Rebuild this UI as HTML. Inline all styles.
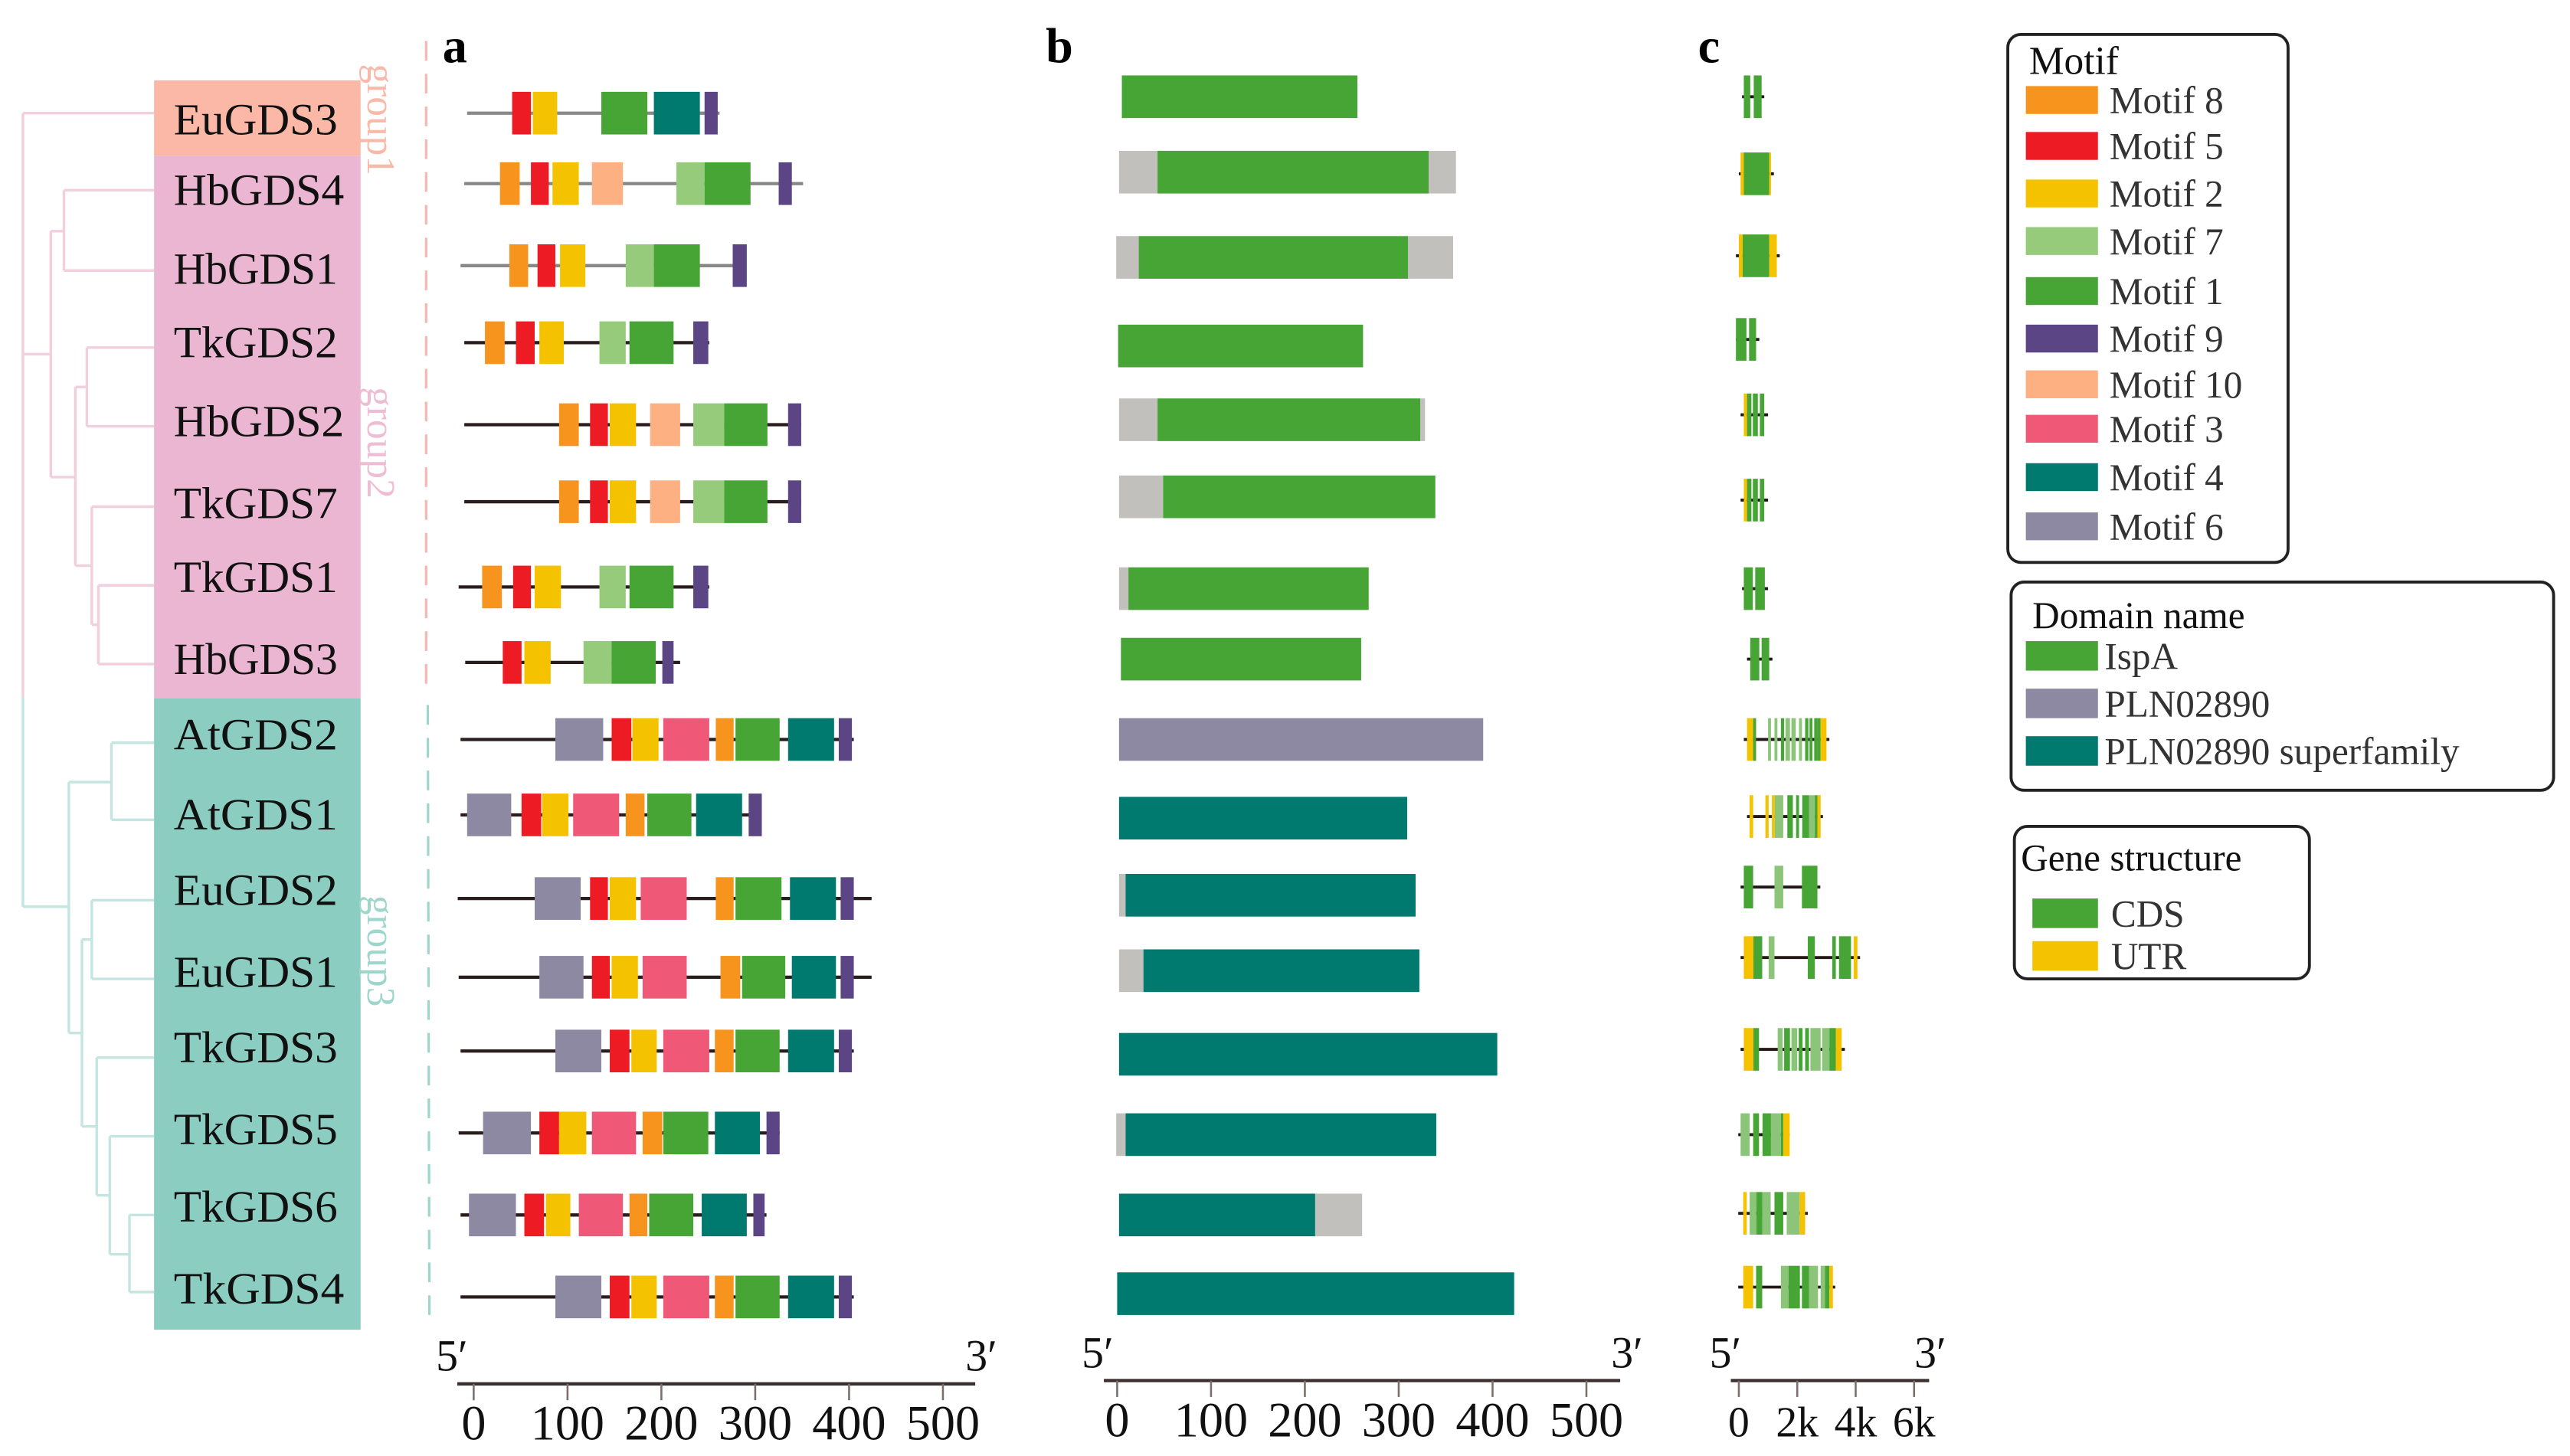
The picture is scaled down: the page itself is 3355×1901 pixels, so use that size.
<!DOCTYPE html>
<html><head><meta charset="utf-8"><style>
html,body{margin:0;padding:0;background:#fff;}
svg{display:block;}
text{font-family:"Liberation Serif",serif;}
</style></head><body>
<svg id="fig" xmlns="http://www.w3.org/2000/svg" width="3355" height="1901" viewBox="0 0 1568 888" preserveAspectRatio="none">
<rect x="0" y="0" width="1568" height="888" fill="#fff"/>
<g id="tree"></g>
<g id="labels"></g>
<g id="pa"></g>
<g id="pb"></g>
<g id="pc"></g>
<g id="legend"></g>
</svg>
<script>
const genes = ["EuGDS3","HbGDS4","HbGDS1","TkGDS2","HbGDS2","TkGDS7","TkGDS1","HbGDS3","AtGDS2","AtGDS1","EuGDS2","EuGDS1","TkGDS3","TkGDS5","TkGDS6","TkGDS4"];
const groupOf = [1,2,2,2,2,2,2,2,3,3,3,3,3,3,3,3];
const labelY = [72,115,163,208,256,306,351,401,447,496,542,592,638,688,735,785];
const rowA = [69,112,162,209,259,306,358,404,451,497,548,596,641,691,741,791];
const rowB = [59,105,157,211,256,303,359,402,451,499,546,592,643,692,741,789];
const rowC = [59,106,156,207,253,305,359,402,451,498,541,584,640,692,740,785];
const axisTicksAA = [0,100,200,300,400,500];
const axisTicksKb = [0,2,4,6];
const axisTickKbLabels = ["0","2k","4k","6k"];
// panel a: protein line extent (aa) and motifs [motifId,start,end]
const protLine = [[-7,262],[-10,351],[-14,290],[-10,251],[-10,349],[-10,349],[-16,251],[-9,220],[-14,405],[-14,307],[-17,424],[-16,424],[-14,405],[-16,326],[-14,312],[-14,405]];
const motifs = [
 [[5,41,61],[2,63,89],[1,136,185],[4,192,241],[9,246,260]],
 [[8,28,49],[5,61,80],[2,84,112],[10,126,159],[7,216,246],[1,246,295],[9,325,339]],
 [[8,38,58],[5,68,87],[2,92,119],[7,162,192],[1,192,241],[9,276,291]],
 [[8,12,33],[5,45,65],[2,70,96],[7,134,162],[1,166,213],[9,234,250]],
 [[8,91,112],[5,124,143],[2,145,173],[10,188,220],[7,234,267],[1,267,313],[9,335,349]],
 [[8,91,112],[5,124,143],[2,145,173],[10,188,220],[7,234,267],[1,267,313],[9,335,349]],
 [[8,9,30],[5,42,61],[2,65,93],[7,134,162],[1,166,213],[9,234,250]],
 [[5,31,51],[2,54,82],[7,117,147],[1,147,194],[9,201,213]],
 [[6,87,138],[5,147,168],[2,169,197],[3,202,251],[8,258,277],[1,279,326],[4,335,384],[9,389,403]],
 [[6,-7,40],[5,51,72],[2,73,101],[3,106,155],[8,162,182],[1,185,232],[4,237,286],[9,293,307]],
 [[6,65,114],[5,124,143],[2,145,173],[3,178,227],[8,258,277],[1,279,328],[4,337,386],[9,391,405]],
 [[6,70,117],[5,126,145],[2,147,175],[3,180,227],[8,263,284],[1,286,332],[4,339,386],[9,391,405]],
 [[6,87,136],[5,145,166],[2,168,195],[3,202,251],[8,257,277],[1,279,326],[4,335,384],[9,389,403]],
 [[6,10,61],[5,70,91],[2,91,120],[3,126,173],[8,180,201],[1,202,250],[4,257,305],[9,312,326]],
 [[6,-5,45],[5,54,75],[2,77,103],[3,112,159],[8,166,185],[1,187,234],[4,243,291],[9,298,310]],
 [[6,87,136],[5,145,166],[2,168,195],[3,202,251],[8,257,277],[1,279,326],[4,335,384],[9,389,403]]
];
// panel b domains [type,start,end]  type: I=IspA, P=PLN02890, S=superfamily, G=grey
const domains = [
 [["I",5,256]],
 [["G",2,43],["I",43,332],["G",332,361]],
 [["G",-1,23],["I",23,310],["G",310,358]],
 [["I",1,262]],
 [["G",2,43],["I",43,323],["G",323,328]],
 [["G",2,49],["I",49,339]],
 [["G",2,12],["I",12,268]],
 [["I",4,260]],
 [["P",2,390]],
 [["S",2,309]],
 [["G",2,9],["S",9,318]],
 [["G",2,28],["S",28,322]],
 [["S",2,405]],
 [["G",-1,9],["S",9,340]],
 [["S",2,211],["G",211,261]],
 [["S",0,423]]
];
// panel c gene structure in kb
const geneLine = [[0.11,0.87],[0,1.2],[-0.1,1.4],[-0.1,0.7],[0.06,1.0],[0.06,1.0],[0.11,1.0],[0.28,1.15],[0.17,3.1],[0.28,2.88],[0.06,2.79],[0.06,4.15],[0.06,3.63],[-0.02,1.74],[-0.02,2.36],[-0.02,3.3]];
const exons = [
 [["C",0.17,0.39],["C",0.51,0.78]],
 [["U",0.06,0.17],["C",0.17,1.04],["U",1.04,1.1]],
 [["U",0,0.13],["C",0.13,1.04],["U",1.04,1.3]],
 [["C",-0.1,0.26],["C",0.35,0.59]],
 [["U",0.17,0.28],["C",0.28,0.43],["C",0.48,0.65],["C",0.72,0.87]],
 [["U",0.17,0.28],["C",0.28,0.43],["C",0.48,0.65],["C",0.72,0.87]],
 [["C",0.17,0.48],["C",0.56,0.89]],
 [["C",0.39,0.7],["C",0.78,1.04]],
 [["U",0.28,0.49],["C",0.49,0.59],["L",1.0,1.1],["L",1.22,1.32],["C",1.44,1.55],["L",1.6,1.75],["L",1.8,1.95],["L",2.06,2.16],["C",2.27,2.38],["C",2.42,2.52],["C",2.58,2.7],["C",2.7,2.8],["U",2.8,3.0]],
 [["U",0.37,0.49],["U",0.91,1.02],["U",1.13,1.23],["L",1.23,1.52],["C",1.66,1.85],["C",1.96,2.06],["C",2.17,2.4],["L",2.4,2.6],["C",2.6,2.69],["U",2.69,2.8]],
 [["C",0.17,0.49],["L",1.22,1.52],["C",2.16,2.69]],
 [["U",0.17,0.5],["C",0.5,0.8],["L",1.02,1.22],["C",2.36,2.6],["C",3.2,3.32],["C",3.43,3.84],["U",3.93,4.06]],
 [["U",0.17,0.5],["C",0.5,0.69],["L",1.33,1.5],["C",1.55,1.75],["L",1.8,2.0],["C",2.05,2.18],["C",2.27,2.4],["L",2.45,2.8],["L",2.85,3.1],["C",3.1,3.32],["U",3.32,3.52]],
 [["L",0.06,0.37],["C",0.49,0.69],["C",0.81,1.1],["L",1.1,1.44],["C",1.44,1.52],["U",1.52,1.74]],
 [["U",0.15,0.27],["L",0.37,0.6],["C",0.6,0.8],["L",0.8,1.09],["C",1.22,1.52],["L",1.64,2.08],["U",2.08,2.27]],
 [["U",0.15,0.49],["C",0.59,0.8],["L",1.44,1.7],["C",1.7,2.09],["C",2.16,2.4],["L",2.4,2.71],["L",2.8,2.95],["C",2.95,3.1],["U",3.1,3.22]]
];
const motifColor = {8:"#f7941d",5:"#ed1c24",2:"#f5c200",7:"#97cb7c",1:"#46a535",9:"#5c4585",10:"#fdb081",3:"#ef5877",4:"#007a6e",6:"#8e89a3"};
const motifLegend = [8,5,2,7,1,9,10,3,4,6];
const domainColor = {I:"#46a535",P:"#8e89a3",S:"#007a6e",G:"#c1c0bd"};
const exonColor = {C:"#46a535",L:"#8cc57a",U:"#f5c200"};

const NS="http://www.w3.org/2000/svg";
function mk(parent,tag,attrs,txt){const e=document.createElementNS(NS,tag);for(const k in attrs)e.setAttribute(k,attrs[k]);if(txt!==undefined)e.textContent=txt;parent.appendChild(e);return e;}
const xA = v => 289 + v*0.5726;
const xB = v => 681.6 + v*0.5726;
const xC = kb => 1060.9 + kb*17.82;
const H = 26;

// tree
const tree=document.getElementById('tree');
const pinkT="#f2cfdd", tealT="#c5e6e0";
const segs=[
 [14,69,14,425,pinkT],[14,425,14,553,tealT],[14,69,94,69,pinkT],[14,216,31,216,pinkT],
 [31,141,31,291,pinkT],[31,141,39,141,pinkT],[39,116,39,165,pinkT],[39,116,94,116,pinkT],[39,165,94,165,pinkT],
 [31,291,46,291,pinkT],[46,236,46,345,pinkT],[46,236,53,236,pinkT],[53,212,53,260,pinkT],[53,212,94,212,pinkT],[53,260,94,260,pinkT],
 [46,345,56,345,pinkT],[56,309,56,381,pinkT],[56,309,94,309,pinkT],[56,381,60,381,pinkT],[60,357,60,405,pinkT],[60,357,94,357,pinkT],[60,405,94,405,pinkT],
 [14,553,42,553,tealT],[42,477,42,630,tealT],[42,477,68,477,tealT],[68,453,68,500,tealT],[68,453,94,453,tealT],[68,500,94,500,tealT],
 [42,630,50,630,tealT],[50,573,50,687,tealT],[50,573,56,573,tealT],[56,549,56,597,tealT],[56,549,94,549,tealT],[56,597,94,597,tealT],
 [50,687,59,687,tealT],[59,645,59,729,tealT],[59,645,94,645,tealT],[59,729,67,729,tealT],[67,693,67,765,tealT],[67,693,94,693,tealT],
 [67,765,79,765,tealT],[79,741,79,788,tealT],[79,741,94,741,tealT],[79,788,94,788,tealT]
];
segs.forEach(s=>{const l=mk(tree,'line',{x1:s[0],y1:s[1],x2:s[2],y2:s[3],stroke:s[4],'stroke-width':1.6});

});

// label boxes
const lab=document.getElementById('labels');
let r;
r=mk(lab,'rect',{x:94,y:49,width:126,height:46,fill:"#fcb8a7"});


r=mk(lab,'rect',{x:94,y:95,width:126,height:331,fill:"#ebb6d1"});


r=mk(lab,'rect',{x:94,y:426,width:126,height:385,fill:"#8ccdc1"});


genes.forEach((g,i)=>{const t=mk(lab,'text',{x:106,y:labelY[i]+10,'font-size':27,fill:"#111",textLength:(g.indexOf('4')>=0||g.indexOf('2')>=0&&g[0]==='H')?104:100,lengthAdjust:"spacingAndGlyphs"},g);

});
// group labels
const glabs=[["group1",232,73,"#f9b9a8"],["group2",232,270,"#efbdd3"],["group3",232,580,"#9fd6cb"]];
glabs.forEach(g=>{const t=mk(lab,'text',{x:g[1],y:g[2],'font-size':24,fill:g[3],'text-anchor':'middle',transform:`rotate(90 ${g[1]} ${g[2]})`,'dominant-baseline':'central'},g[0]);

});
const dl1=mk(lab,'line',{x1:260,y1:25,x2:260,y2:420,stroke:"#f7b6b0",'stroke-width':1.5,'stroke-dasharray':'12,8'});


const dl2=mk(lab,'line',{x1:261,y1:430,x2:262,y2:810,stroke:"#9fd6cb",'stroke-width':1.5,'stroke-dasharray':'12,8'});



// panel letters
[["a",270],["b",638],["c",1036]].forEach(p=>{const t=mk(lab,'text',{x:p[1],y:38,'font-size':30,'font-weight':'bold',fill:"#000"},p[0]);

});

// axis helper
function axis(g,x0,x1,y,ticks,fx,labels,fs,p5,p3,name){
 const a=mk(g,'line',{x1:x0,y1:y,x2:x1,y2:y,stroke:"#3b2f2f",'stroke-width':2});
 
 
 ticks.forEach((v,i)=>{const tk=mk(g,'line',{x1:fx(v),y1:y,x2:fx(v),y2:y+10,stroke:"#7a6e6e",'stroke-width':1.2});
 
 
 const tl=mk(g,'text',{x:fx(v),y:y+34,'font-size':fs,'text-anchor':'middle',fill:"#111"},labels[i]);
 
 });
 const t5=mk(g,'text',{x:p5,y:y-8,'font-size':27,fill:"#111"},"5′");
 
 
 const t3=mk(g,'text',{x:p3,y:y-8,'font-size':27,fill:"#111"},"3′");
 
 
}

// panel a
const pa=document.getElementById('pa');
genes.forEach((g,i)=>{
 const cy=rowA[i];
 const ln=mk(pa,'line',{x1:xA(protLine[i][0]),y1:cy,x2:xA(protLine[i][1]),y2:cy,stroke:(i<3?"#888":"#2a1d1d"),'stroke-width':2});
 
 
 motifs[i].forEach(m=>{const b=mk(pa,'rect',{x:xA(m[1]),y:cy-H/2,width:xA(m[2])-xA(m[1]),height:H,fill:motifColor[m[0]]});
 
 });
});
axis(pa,279,595,844,axisTicksAA,xA,axisTicksAA.map(String),30,266,589,'panel-a');

// panel b
const pb=document.getElementById('pb');
genes.forEach((g,i)=>{const cy=rowB[i];
 domains[i].forEach(d=>{const b=mk(pb,'rect',{x:xB(d[1]),y:cy-13,width:xB(d[2])-xB(d[1]),height:26,fill:domainColor[d[0]]});
 
 });
});
axis(pb,673.5,988.5,842,axisTicksAA,xB,axisTicksAA.map(String),30,660,983,'panel-b');

// panel c
const pc=document.getElementById('pc');
genes.forEach((g,i)=>{const cy=rowC[i];
 const ln=mk(pc,'line',{x1:xC(geneLine[i][0]),y1:cy,x2:xC(geneLine[i][1]),y2:cy,stroke:"#231815",'stroke-width':1.8});
 
 
 exons[i].forEach(e=>{const b=mk(pc,'rect',{x:xC(e[1]),y:cy-13,width:Math.max(0.8,xC(e[2])-xC(e[1])),height:26,fill:exonColor[e[0]]});
 
 });
});
axis(pc,1056,1177,842,axisTicksKb,xC,axisTickKbLabels,26,1043,1168,'panel-c');

// legends
const lg=document.getElementById('legend');
function box(x,y,w,h,name){const b=mk(lg,'rect',{x:x,y:y,width:w,height:h,rx:8,fill:"#fff",stroke:"#222",'stroke-width':1.8});
 
 }
box(1225,21,171,322,'motif-legend-box');
let tt=mk(lg,'text',{x:1238,y:45,'font-size':24,fill:"#111"},"Motif");


const motifLegY=[61,89,118,147,177.5,206.5,234.4,261.5,291,321];
motifLegend.forEach((m,i)=>{const s=mk(lg,'rect',{x:1236,y:motifLegY[i]-8.5,width:44,height:17,fill:motifColor[m]});
 
 
 const t=mk(lg,'text',{x:1287,y:motifLegY[i]+8,'font-size':23,fill:"#333"},"Motif "+m);
 
 });
box(1227,355,331,127,'domain-legend-box');
tt=mk(lg,'text',{x:1240,y:383,'font-size':23,fill:"#111"},"Domain name");


[["I","IspA",400],["P","PLN02890",429],["S","PLN02890 superfamily",458]].forEach(d=>{
 const s=mk(lg,'rect',{x:1236,y:d[2]-9,width:44,height:18,fill:domainColor[d[0]]});
 
 
 const t=mk(lg,'text',{x:1284,y:d[2]+8,'font-size':23,fill:"#333"},d[1]);
 
 });
box(1229,504,180,93,'gene-structure-legend-box');
tt=mk(lg,'text',{x:1233,y:531,'font-size':23,fill:"#111"},"Gene structure");


[["C","CDS",557],["U","UTR",583]].forEach(d=>{
 const s=mk(lg,'rect',{x:1240,y:d[2]-9,width:40,height:18,fill:exonColor[d[0]]});
 
 
 const t=mk(lg,'text',{x:1288,y:d[2]+8,'font-size':23,fill:"#333"},d[1]);
 
 });
</script>
</body></html>
